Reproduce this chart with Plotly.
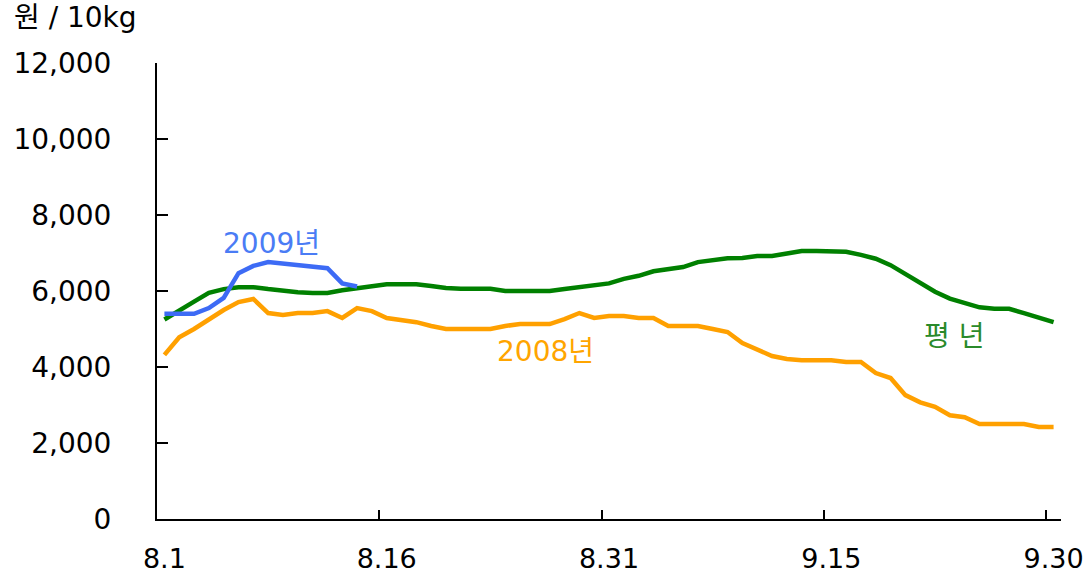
import plotly.graph_objects as go

# x categories: 8.1 ... 9.30 (61 days)
days = [f"8.{d}" for d in range(1, 32)] + [f"9.{d}" for d in range(1, 31)]
tick_labels = ["8.1", "8.16", "8.31", "9.15", "9.30"]

y2009 = [5400, 5400, 5400, 5550, 5820, 6470, 6660, 6760, 6720, 6680, 6640, 6600, 6200, 6120]

y_avg = [5250, 5500, 5720, 5950, 6050, 6100, 6100, 6050, 6000, 5970, 5950, 5950, 6020, 6080,
         6130, 6180, 6180, 6180, 6130, 6080, 6060, 6060, 6060, 6000, 6000, 6000, 6000, 6050,
         6100, 6160, 6200, 6320, 6400, 6520, 6580, 6630, 6760, 6820, 6860, 6870, 6920, 6920,
         7000, 7050, 7050, 7050, 7030, 6950, 6850, 6680, 6450, 6200, 5980, 5800, 5680, 5570,
         5530, 5530, 5420, 5310, 5180]

y2008 = [4320, 4780, 5000, 5250, 5500, 5710, 5790, 5420, 5370, 5420, 5420, 5470, 5290, 5550,
         5470, 5290, 5240, 5180, 5080, 5000, 5000, 5000, 5000, 5080, 5130, 5130, 5130, 5260,
         5420, 5290, 5340, 5340, 5290, 5290, 5080, 5080, 5080, 5000, 4920, 4630, 4450, 4290,
         4210, 4180, 4180, 4180, 4130, 4130, 3840, 3710, 3260, 3070, 2950, 2730, 2680, 2500,
         2500, 2500, 2500, 2420, 2420]

y_ticks = [0, 2000, 4000, 6000, 8000, 10000, 12000]

idx = list(range(len(days)))
tick_idx = [days.index(t) for t in tick_labels]

GREEN = "#008000"
ORANGE = "#FFA000"
BLUE = "#3D6BF5"
FONT = "DejaVu Sans, Noto Sans CJK KR, sans-serif"

fig = go.Figure()
fig.add_trace(go.Scatter(x=idx[:len(y_avg)], y=y_avg, mode="lines",
                         line=dict(color=GREEN, width=4.5), name="평년"))
fig.add_trace(go.Scatter(x=idx[:len(y2008)], y=y2008, mode="lines",
                         line=dict(color=ORANGE, width=4.5), name="2008년"))
fig.add_trace(go.Scatter(x=idx[:len(y2009)], y=y2009, mode="lines",
                         line=dict(color=BLUE, width=4.5), name="2009년"))
# invisible trace on overlay axis for boundary tick marks
fig.add_trace(go.Scatter(x=[-0.5, 60.5], y=[0, 0], xaxis="x2", mode="lines",
                         line=dict(width=0), hoverinfo="skip", showlegend=False))

fig.update_layout(
    width=1086, height=575,
    margin=dict(l=157, r=25, t=63, b=56, autoexpand=False),
    paper_bgcolor="white", plot_bgcolor="white",
    showlegend=False,
    font=dict(family=FONT, size=28, color="black"),
    xaxis=dict(range=[-0.5, 60.5], tickvals=tick_idx, ticktext=tick_labels,
               ticks="", showgrid=False, zeroline=False, automargin=False,
               showline=True, linecolor="black", linewidth=2,
               ticklabelstandoff=15,
               tickfont=dict(family=FONT, size=27, color="black")),
    xaxis2=dict(range=[-0.5, 60.5], overlaying="x", side="bottom",
                tickvals=[t - 0.5 for t in tick_idx[1:]] + [60 - 0.5],
                ticks="inside", ticklen=9, tickwidth=2, tickcolor="black",
                automargin=False,
                showticklabels=False, showgrid=False, zeroline=False, showline=False),
    yaxis=dict(range=[0, 12000], tickvals=y_ticks,
               ticktext=[f"{v:,}" for v in y_ticks],
               ticks="inside", ticklen=11, tickwidth=2, tickcolor="black",
               showgrid=False, zeroline=False, automargin=False,
               showline=True, linecolor="black", linewidth=2,
               ticklabelstandoff=38,
               tickfont=dict(family=FONT, size=28, color="black")),
)

fig.add_annotation(x=0, y=1, xref="paper", yref="paper", xanchor="left", yanchor="bottom",
                   text="원 / 10kg", showarrow=False, xshift=-145, yshift=27,
                   font=dict(family=FONT, size=28, color="black"))
fig.add_annotation(x=7.2, y=7263, text="2009년", showarrow=False,
                   font=dict(family=FONT, size=28, color="#4A7CF5"))
fig.add_annotation(x=25.7, y=4395, text="2008년", showarrow=False,
                   font=dict(family=FONT, size=28, color="#FFA500"))
fig.add_annotation(x=53.3, y=4790, text="평 년", showarrow=False,
                   font=dict(family=FONT, size=28, color="#2A8A2A"))

fig.write_html("out.html", config={"displayModeBar": False},
               post_script="document.body.style.margin='0';document.body.style.overflow='hidden';")
